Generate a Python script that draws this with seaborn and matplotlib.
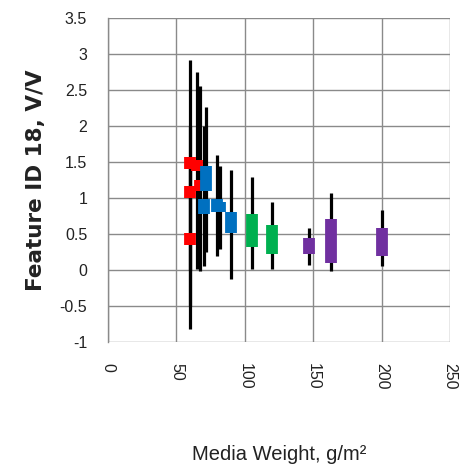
import numpy as np
import pandas as pd
import matplotlib
matplotlib.use("Agg")
import matplotlib.pyplot as plt
import seaborn as sns

# ---- data ----
sample_x   = [60, 60, 60, 65, 67, 70, 72, 80, 82, 90, 105, 120, 147, 163, 200]
whisk_lo   = [-0.82, 0.00, -0.50, 0.01, -0.01, 0.05, 0.25, 0.20, 0.29, -0.13, 0.01, 0.01, 0.07, -0.01, 0.06]
whisk_hi   = [2.92, 2.00, 1.50, 2.75, 2.56, 2.00, 2.26, 1.60, 1.45, 1.39, 1.29, 0.95, 0.59, 1.07, 0.83]
box_lo     = [1.40, 1.00, 0.35, 1.38, 1.10, 0.78, 1.10, 0.80, 0.80, 0.52, 0.32, 0.22, 0.22, 0.10, 0.20]
box_hi     = [1.57, 1.16, 0.51, 1.53, 1.25, 0.99, 1.45, 0.99, 0.95, 0.80, 0.78, 0.62, 0.44, 0.71, 0.58]
group      = ["R", "R", "R", "R", "R", "B", "B", "B", "B", "B", "G", "G", "P", "P", "P"]
group_colors = {"R": "#FF0000", "B": "#0070C0", "G": "#00B050", "P": "#7030A0"}

x_ticks = [0, 50, 100, 150, 200, 250]
y_ticks = [-1, -0.5, 0, 0.5, 1, 1.5, 2, 2.5, 3, 3.5]
y_tick_labels = ["-1", "-0.5", "0", "0.5", "1", "1.5", "2", "2.5", "3", "3.5"]

# long-form tables
n = len(sample_x)
whisk_df = pd.DataFrame({
    "id": np.repeat(np.arange(n), 2),
    "x": np.repeat(sample_x, 2),
    "y": np.ravel(np.column_stack([whisk_lo, whisk_hi])),
})
box_df = pd.DataFrame({
    "id": np.repeat(np.arange(n), 2),
    "x": np.repeat(sample_x, 2),
    "y": np.ravel(np.column_stack([box_lo, box_hi])),
    "group": np.repeat(group, 2),
})

sns.set_style("white")
plt.rcParams["lines.solid_capstyle"] = "butt"
plt.rcParams["font.family"] = ["Liberation Sans", "DejaVu Sans"]

fig = plt.figure(figsize=(4.61, 4.75), dpi=100)
ax = fig.add_axes([108 / 461, 1 - 342 / 475, (450 - 108) / 461, (342 - 18) / 475])

sns.lineplot(data=whisk_df, x="x", y="y", units="id", estimator=None, sort=False,
             color="black", linewidth=2.3, ax=ax, legend=False)
sns.lineplot(data=box_df, x="x", y="y", units="id", hue="group", estimator=None,
             sort=False, palette=group_colors, linewidth=8.5, ax=ax, legend=False)

ax.set_xlim(0, 250)
ax.set_ylim(-1, 3.5)
ax.set_xticks(x_ticks)
ax.set_xticklabels([str(v) for v in x_ticks], rotation=-90, fontsize=11.5, color="#222222")
ax.set_yticks(y_ticks)
ax.set_yticklabels(y_tick_labels, fontsize=11.5, color="#222222")
ax.grid(True, color="#8a8a8a", linewidth=1.0)
ax.set_axisbelow(True)
for s in ["top", "right", "bottom"]:
    ax.spines[s].set_visible(False)
ax.spines["left"].set_color("#8a8a8a")
ax.spines["left"].set_linewidth(1.0)
ax.tick_params(axis="both", length=5, width=1.0, color="#8a8a8a", pad=10)

ax.set_xlabel("Media Weight, g/m\u00b2", fontsize=14.5, color="#222222", labelpad=40)
ax.set_ylabel("Feature ID 18, V/V", fontsize=15.5, fontweight="bold",
              family="DejaVu Sans", color="#222222", labelpad=10)

fig.savefig("out.png", dpi=100)
